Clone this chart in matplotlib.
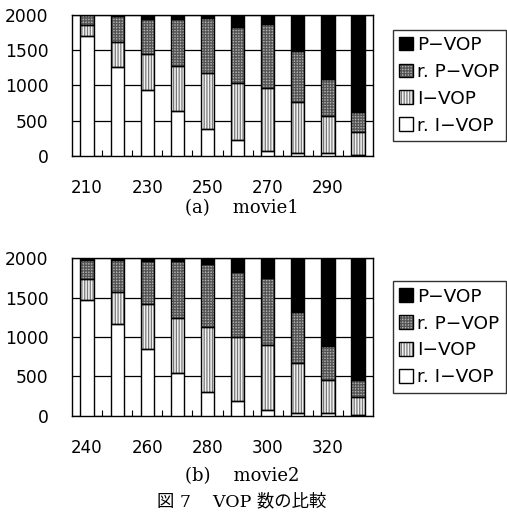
import matplotlib
matplotlib.use("Agg")
import matplotlib.pyplot as plt
import numpy as np
from matplotlib.patches import Patch
from matplotlib.legend_handler import HandlerTuple

# ---- data ----
cats1 = [210, 220, 230, 240, 250, 260, 270, 280, 290, 300]
m1_rI = [1700, 1260, 930, 635, 380, 225, 70, 35, 35, 10]
m1_I = [150, 360, 515, 645, 790, 810, 890, 725, 530, 330]
m1_rP = [150, 360, 500, 665, 780, 795, 915, 720, 530, 280]
m1_P = [0, 20, 55, 55, 50, 170, 125, 520, 905, 1380]

cats2 = [240, 250, 260, 270, 280, 290, 300, 310, 320, 330]
m2_rI = [1470, 1165, 845, 540, 305, 190, 72, 30, 30, 5]
m2_I = [265, 410, 570, 705, 820, 805, 826, 644, 423, 236]
m2_rP = [245, 405, 545, 715, 805, 835, 848, 648, 437, 212]
m2_P = [20, 20, 40, 40, 70, 170, 254, 678, 1110, 1547]

series_names = ["P−VOP", "r. P−VOP", "I−VOP", "r. I−VOP"]
yticks = [0, 500, 1000, 1500, 2000]

plt.rcParams['hatch.linewidth'] = 0.9

styles = {
    "r. I−VOP": dict(face="white", hatch=None, hcol="black"),
    "I−VOP": dict(face="#f2f2f2", hatch="||||||", hcol="#7a7a7a"),
    "r. P−VOP": dict(face="#b0b0b0", hatch="++++++", hcol="#555555"),
    "P−VOP": dict(face="black", hatch=None, hcol="black"),
}

fig = plt.figure(figsize=(5.07, 5.16), dpi=100)

def draw(ax, cats, rI, I, rP, P):
    x = np.arange(len(cats))
    w = 0.44
    bottom = np.zeros(len(cats))
    for name, vals in [("r. I−VOP", rI), ("I−VOP", I), ("r. P−VOP", rP), ("P−VOP", P)]:
        st = styles[name]
        vals = np.array(vals, dtype=float)
        plt.rcParams['hatch.color'] = st["hcol"]
        ax.bar(x, vals, w, bottom=bottom, color=st["face"], hatch=st["hatch"],
               linewidth=0, zorder=3)
        ax.bar(x, vals, w, bottom=bottom, fill=False, edgecolor="black",
               linewidth=1.0, zorder=4)
        bottom += vals
    ax.set_xlim(-0.5, len(cats) - 0.5)
    ax.set_ylim(0, 2000)
    ax.set_yticks(yticks)
    ax.set_yticklabels([str(v) for v in yticks], fontsize=12.3)
    ax.tick_params(axis='y', length=0, pad=17)
    ax.set_xticks(x[::2])
    ax.set_xticklabels([str(c) for c in cats[::2]], fontsize=12)
    ax.set_xticks(np.arange(len(cats) - 1) + 0.5, minor=True)
    ax.tick_params(axis='x', which='major', length=0, pad=17)
    ax.tick_params(axis='x', which='minor', direction='in', length=4.5, width=0.8)
    ax.grid(axis='y', color='black', linewidth=0.9, zorder=1)
    for s in ax.spines.values():
        s.set_linewidth(1.0)
    # legend
    handles = []
    for name in series_names:
        st = styles[name]
        plt.rcParams['hatch.color'] = st["hcol"]
        p1 = Patch(facecolor=st["face"], hatch=st["hatch"], linewidth=0)
        p2 = Patch(fill=False, edgecolor="black", linewidth=1.0)
        handles.append((p1, p2))
    leg = ax.legend(handles, series_names, handler_map={tuple: HandlerTuple(ndivide=1, pad=0)},
                    loc='center left', bbox_to_anchor=(1.066, 0.5), fontsize=13.3,
                    handlelength=0.75, handleheight=0.75, handletextpad=0.2,
                    labelspacing=0.48, borderpad=0.35, borderaxespad=0,
                    frameon=True, fancybox=False, edgecolor='black')
    leg.get_frame().set_linewidth(1.0)

ax1 = fig.add_axes([0.142, 0.698, 0.594, 0.2735])
draw(ax1, cats1, m1_rI, m1_I, m1_rP, m1_P)
ax2 = fig.add_axes([0.142, 0.1944, 0.594, 0.305])
draw(ax2, cats2, m2_rI, m2_I, m2_rP, m2_P)

serif = ['DejaVu Serif', 'Noto Sans CJK JP']
fig.text(242 / 507, 1 - 208 / 516, "(a)    movie1", ha='center', va='center', fontsize=13, family=serif)
fig.text(242 / 507, 1 - 476 / 516, "(b)    movie2", ha='center', va='center', fontsize=13, family=serif)
fig.text(242 / 507, 1 - 502 / 516, "図 7    VOP 数の比較", ha='center', va='center', fontsize=12.5, family=serif)

fig.savefig("out.png", dpi=100)
